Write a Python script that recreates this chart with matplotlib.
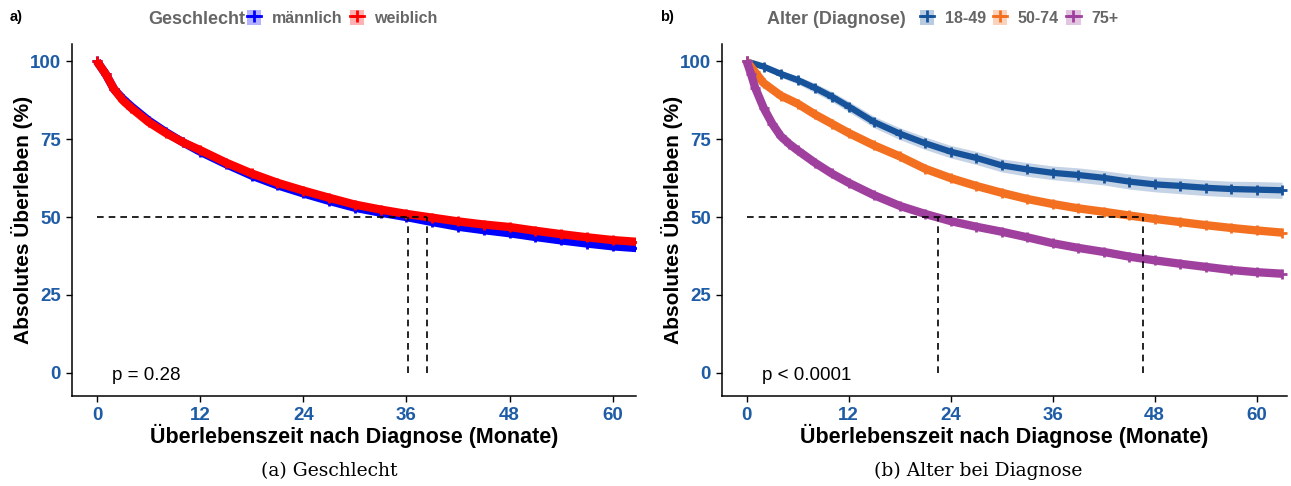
import numpy as np
import matplotlib.pyplot as plt
from matplotlib.patches import Patch
from matplotlib.lines import Line2D
from matplotlib.legend_handler import HandlerTuple

plt.rcParams['font.family'] = ['Liberation Sans', 'DejaVu Sans']

# --- panel a: Geschlecht ---
months_a = [0, 1, 2, 3, 4, 6, 8, 10, 12, 15, 18, 21, 24, 27, 30, 33, 36, 39, 42, 45, 48, 51, 54, 57, 60, 63]
maennlich = [100, 96, 91, 88, 85.5, 81, 77.3, 74, 71, 67, 63.3, 60.2, 57.6, 55.2, 53, 51.4, 50.0, 48.4, 46.9, 45.8, 44.8, 43.6, 42.5, 41.5, 40.6, 40]
weiblich = [100, 96, 91, 87.5, 85, 80.5, 77, 74, 71.5, 67.5, 64, 61, 58.5, 56.2, 54, 52.4, 51.0, 49.8, 48.6, 47.6, 46.8, 45.6, 44.5, 43.5, 42.6, 42]
medians_a = [36.2, 38.4]
p_a = "p = 0.28"

# --- panel b: Alter (Diagnose) ---
months_b1 = [0, 2, 4, 6, 8, 10, 12, 15, 18, 21, 24, 27, 30, 33, 36, 39, 42, 45, 48, 51, 54, 57, 60, 63]
alter_18_49 = [100, 98.3, 96, 94, 91.5, 88.7, 85.5, 80.5, 76.8, 73.7, 71, 69, 66.6, 65.3, 64.2, 63.5, 62.6, 61.4, 60.5, 60, 59.4, 59, 58.8, 58.6]
ci_18_49 = [0, 0.8, 1.1, 1.3, 1.5, 1.6, 1.7, 1.8, 1.9, 2.0, 2.0, 2.1, 2.1, 2.2, 2.2, 2.3, 2.3, 2.4, 2.4, 2.5, 2.5, 2.5, 2.6, 2.6]
months_b2 = [0, 1, 2, 4, 6, 8, 10, 12, 15, 18, 21, 24, 27, 30, 33, 36, 39, 42, 45, 48, 51, 54, 57, 60, 63]
alter_50_74 = [100, 96.5, 93, 89, 86.4, 83, 80, 77, 73, 69.5, 65.5, 62.5, 60, 57.8, 55.8, 54.2, 52.8, 51.7, 50.5, 49.4, 48.4, 47.4, 46.5, 45.7, 45]
months_b3 = [0, 0.5, 1, 2, 3, 4, 5, 6, 8, 10, 12, 15, 18, 21, 24, 27, 30, 33, 36, 39, 42, 45, 48, 51, 54, 57, 60, 63]
alter_75 = [100, 96, 91.5, 85, 80, 76, 73.5, 71.4, 67.5, 64, 61, 57, 53.6, 51, 48.7, 46.9, 45.3, 43.5, 41.6, 40.1, 38.8, 37.3, 36.1, 35, 34, 33, 32.3, 31.8]
medians_b = [22.5, 46.6]
p_b = "p < 0.0001"

tick_blue = '#1F5CA6'
grey = '#666666'

fig = plt.figure(figsize=(12.91, 4.86), dpi=100)
ax1 = fig.add_axes([0.0558, 0.185, 0.4368, 0.724])
ax2 = fig.add_axes([0.5593, 0.185, 0.4377, 0.724])


def style(ax, pval, xmax):
    ax.set_xlim(-2.9, xmax)
    ax.set_ylim(-7.5, 105.5)
    ax.set_xticks([0, 12, 24, 36, 48, 60])
    ax.set_yticks([0, 25, 50, 75, 100])
    for s in ['top', 'right']:
        ax.spines[s].set_visible(False)
    for s in ['left', 'bottom']:
        ax.spines[s].set_linewidth(1.1)
    ax.tick_params(length=4, width=1, colors='black', labelsize=13.5, pad=4)
    for lab in ax.get_xticklabels() + ax.get_yticklabels():
        lab.set_color(tick_blue)
        lab.set_fontweight('bold')
    ax.set_xlabel('Überlebenszeit nach Diagnose (Monate)', fontsize=15.5, fontweight='bold', labelpad=0)
    ax.set_ylabel('Absolutes Überleben (%)', fontsize=15, fontweight='bold')
    ax.yaxis.set_label_coords(-0.07, 0.5)
    ax.text(1.8, -1, pval, fontsize=13.5, va='center', ha='left')


def median_lines(ax, meds):
    ax.plot([0, max(meds)], [50, 50], color='black', lw=1.2, ls=(0, (4, 3)), zorder=5)
    for m in meds:
        ax.plot([m, m], [0, 50], color='black', lw=1.2, ls=(0, (4, 3)), zorder=5)


def curve(ax, x, y, color, ci=None, lw=6):
    x = np.array(x)
    y = np.array(y)
    if ci is not None:
        ci = np.array(ci)
        ax.fill_between(x, y - ci, y + ci, color=color, alpha=0.25, lw=0)
    ax.plot(x, y, color=color, lw=lw, solid_capstyle='butt',
            marker='+', ms=7, mew=2)


curve(ax1, months_a, maennlich, '#0000FF')
curve(ax1, months_a, weiblich, '#FF0000')
median_lines(ax1, medians_a)
style(ax1, p_a, 62.7)

curve(ax2, months_b1, alter_18_49, '#16539A', ci=ci_18_49, lw=4.5)
curve(ax2, months_b2, alter_50_74, '#F37021')
curve(ax2, months_b3, alter_75, '#A0409E')
median_lines(ax2, medians_b)
style(ax2, p_b, 63.6)


def key(color):
    return (Patch(facecolor=color, alpha=0.3, lw=0),
            Line2D([], [], color=color, lw=2, marker='+', ms=8, mew=2))


def top_legend(title, title_x, keys_x, labels, colors):
    fig.text(title_x, 1 - 19 / 486, title, fontsize=13, fontweight='bold', color=grey, va='center', ha='left')
    handles = [key(c) for c in colors]
    leg = fig.legend(handles, labels, loc='center left', bbox_to_anchor=(keys_x, 1 - 18 / 486),
                     ncol=len(labels), frameon=False, borderpad=0, borderaxespad=0,
                     handlelength=0.9, handleheight=1.1, handletextpad=0.65, columnspacing=0.45,
                     handler_map={tuple: HandlerTuple(ndivide=1, pad=0)},
                     prop={'weight': 'bold', 'size': 11.5})
    for t in leg.get_texts():
        t.set_color(grey)


top_legend('Geschlecht', 148 / 1291, 247 / 1291, ['männlich', 'weiblich'], ['#0000FF', '#FF0000'])
top_legend('Alter (Diagnose)', 767 / 1291, 920 / 1291, ['18-49', '50-74', '75+'], ['#16539A', '#F37021', '#A0409E'])

fig.text(10 / 1291, 1 - 17 / 486, 'a)', fontsize=10.5, fontweight='bold', va='center')
fig.text(660 / 1291, 1 - 17 / 486, 'b)', fontsize=10.5, fontweight='bold', va='center')

fig.text(329 / 1291, 1 - 471 / 486, '(a) Geschlecht', fontsize=13.5, family=['DejaVu Serif'], ha='center', va='center')
fig.text(978 / 1291, 1 - 471 / 486, '(b) Alter bei Diagnose', fontsize=13.5, family=['DejaVu Serif'], ha='center', va='center')

fig.savefig('out.png', dpi=100)
